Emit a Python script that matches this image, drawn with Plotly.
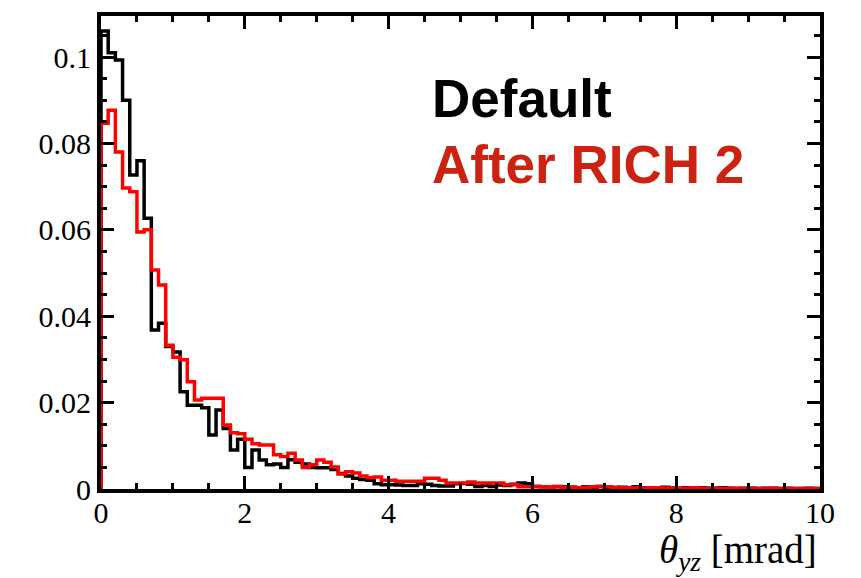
import plotly.graph_objects as go

# bin layout: 100 bins of width 0.1 over [0, 10] mrad
n_bins = 100
x_min, x_max = 0.0, 10.0

default_vals = [
    0.106, 0.101, 0.0993, 0.090, 0.0727, 0.076, 0.0627, 0.0368, 0.0384, 0.033,
    0.0317, 0.0225, 0.0194, 0.0194, 0.0188, 0.0125, 0.0183, 0.014, 0.009, 0.0115,
    0.005, 0.009, 0.0067, 0.0056, 0.0058, 0.005, 0.0068, 0.0062, 0.0058, 0.005,
    0.0049, 0.0049, 0.0045, 0.0036, 0.003, 0.0025, 0.0022, 0.002, 0.0012, 0.001,
    0.001, 0.0009, 0.0008, 0.0008, 0.0012, 0.0011, 0.0008, 0.0007, 0.0007, 0.0012,
    0.0013, 0.0011, 0.0006, 0.0008, 0.0006, 0.0009, 0.0008, 0.0011, 0.0014, 0.0012,
    0.0006, 0.0005, 0.0004, 0.0006, 0.0005, 0.0004, 0.0003, 0.0005, 0.0004, 0.0006,
    0.0004, 0.0003, 0.0004, 0.0003, 0.0005, 0.0003, 0.0002, 0.0003, 0.0004, 0.0003,
    0.0002, 0.0003, 0.0002, 0.0003, 0.0002, 0.0002, 0.0003, 0.0002, 0.0001, 0.0002,
    0.0002, 0.0001, 0.0002, 0.0002, 0.0001, 0.0002, 0.0001, 0.0001, 0.0002, 0.0001,
]

rich2_vals = [
    0.0847, 0.0877, 0.078, 0.0697, 0.0688, 0.0595, 0.060, 0.0507, 0.0472, 0.0333,
    0.0305, 0.0299, 0.0248, 0.0206, 0.021, 0.021, 0.021, 0.0148, 0.013, 0.0128,
    0.0115, 0.0105, 0.0102, 0.0102, 0.0079, 0.0075, 0.0083, 0.0067, 0.005, 0.0056,
    0.0067, 0.0062, 0.0051, 0.0035, 0.004, 0.0037, 0.003, 0.0026, 0.0028, 0.002,
    0.002, 0.0018, 0.0018, 0.0018, 0.0018, 0.0025, 0.0025, 0.002, 0.0014, 0.0014,
    0.0014, 0.0016, 0.0014, 0.0014, 0.0014, 0.0014, 0.001, 0.001, 0.0005, 0.0005,
    0.0006, 0.0005, 0.0004, 0.0005, 0.0004, 0.0004, 0.0003, 0.0004, 0.0005, 0.0006,
    0.0005, 0.0004, 0.0003, 0.0003, 0.0003, 0.0002, 0.0003, 0.0003, 0.0002, 0.0003,
    0.0002, 0.0002, 0.0003, 0.0002, 0.0002, 0.0002, 0.0001, 0.0002, 0.0002, 0.0001,
    0.0002, 0.0001, 0.0001, 0.0002, 0.0001, 0.0001, 0.0001, 0.0001, 0.0001, 0.0001,
]

series_names = ["Default", "After RICH 2"]
line_colors = ["#000000", "#ff0000"]
text_colors = ["#000000", "#cc2211"]

bin_w = (x_max - x_min) / n_bins
edges = [x_min + i * bin_w for i in range(n_bins)]


def step_xy(vals):
    xs = [x_min] + edges + [x_max]
    ys = [0.0] + list(vals) + [0.0]
    return xs, ys


fig = go.Figure()
for vals, name, col in zip([default_vals, rich2_vals], series_names, line_colors):
    xs, ys = step_xy(vals)
    fig.add_trace(go.Scatter(x=xs, y=ys, mode="lines", name=name,
                             line=dict(color=col, width=3.5, shape="hv"),
                             showlegend=False))

serif = "Liberation Serif, Times New Roman, serif"
axis_common = dict(showline=True, linecolor="black", linewidth=4, mirror="allticks",
                   ticks="inside", tickcolor="black", tickwidth=3,
                   showgrid=False, zeroline=False,
                   tickfont=dict(family=serif, size=30, color="black"))

fig.update_xaxes(range=[x_min, x_max], dtick=2, tick0=0, ticklen=13,
                 ticklabelstandoff=-6,
                 minor=dict(dtick=0.5, ticklen=6, tickwidth=3, ticks="inside",
                            tickcolor="black", showgrid=False),
                 **axis_common)
fig.update_yaxes(range=[0, 0.1095], dtick=0.02, tick0=0, ticklen=13,
                 minor=dict(dtick=0.005, ticklen=6, tickwidth=3, ticks="inside",
                            tickcolor="black", showgrid=False),
                 **axis_common)

# legend-style labels
fig.add_annotation(x=4.57, y=0.0903, xref="x", yref="y", xanchor="left", yanchor="middle",
                   text="<b>Default</b>", showarrow=False,
                   font=dict(family="Liberation Sans, Arial, sans-serif", size=53, color=text_colors[0]))
fig.add_annotation(x=4.57, y=0.0752, xref="x", yref="y", xanchor="left", yanchor="middle",
                   text="<b>After RICH 2</b>", showarrow=False,
                   font=dict(family="Liberation Sans, Arial, sans-serif", size=53, color=text_colors[1]))

# axis title
fig.add_annotation(x=0.998, y=-0.135, xref="paper", yref="paper", xanchor="right", yanchor="middle",
                   text="<i>θ</i><sub><i>yz</i></sub> [mrad]", showarrow=False,
                   font=dict(family=serif, size=39, color="black"))

fig.update_layout(width=861, height=578, paper_bgcolor="white", plot_bgcolor="white",
                  margin=dict(l=101, r=41, t=16, b=89))

fig.write_html("out.html")
